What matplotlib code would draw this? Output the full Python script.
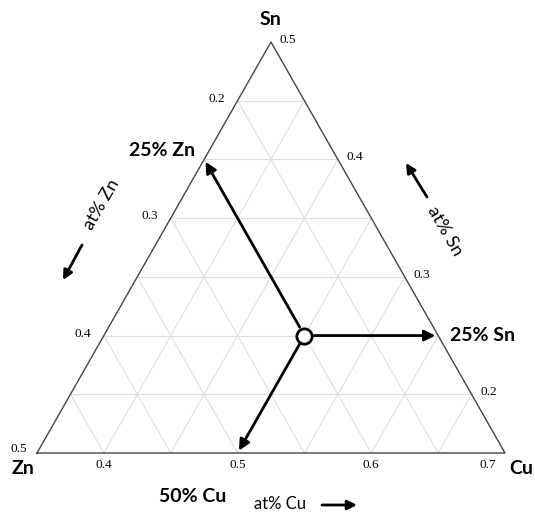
import numpy as np
import matplotlib.pyplot as plt

# ternary window (at%) : Cu 0.35-0.70, Sn 0.15-0.50, Zn 0.15-0.50
cu_min, sn_min, zn_min = 0.35, 0.15, 0.15
span = 0.35
grid_step = 0.05

# composition of the marked alloy and where each arrow ends (cu, sn, zn)
point = (0.50, 0.25, 0.25)
arrow_ends = [(0.35, 0.40, 0.25), (0.60, 0.25, 0.15), (0.50, 0.15, 0.35)]
arrow_labels = ['25% Zn', '25% Sn', '50% Cu']

cu_ticks = [0.4, 0.5, 0.6, 0.7]
zn_ticks = [0.5, 0.4, 0.3, 0.2]
sn_ticks = [0.2, 0.3, 0.4, 0.5]

BOLD = ['Lato', 'DejaVu Sans']
SERIF = ['Liberation Serif', 'DejaVu Serif']
H = 514  # figure height in pixels, for figure-pixel placements


def tern(cu, sn, zn=None):
    b = (cu - cu_min) / span
    t = (sn - sn_min) / span
    return b + t / 2, t * np.sqrt(3) / 2


fig = plt.figure(figsize=(5.35, 5.14), dpi=100)
ax = fig.add_axes([0, 0, 1, 1])
ax.set_xlim(-37 / 468, 498 / 468)
ax.set_ylim(-61 / 474.6, 453 / 474.6)
ax.axis('off')

# grid lines
levels = np.arange(1, 7) * grid_step
for d in levels:
    # constant Cu
    c = cu_min + d
    p1 = tern(c, sn_min); p2 = tern(c, 1 - c - zn_min)
    ax.plot([p1[0], p2[0]], [p1[1], p2[1]], color='#dedede', lw=0.8, zorder=1)
    # constant Sn
    s = sn_min + d
    p1 = tern(cu_min, s); p2 = tern(1 - s - zn_min, s)
    ax.plot([p1[0], p2[0]], [p1[1], p2[1]], color='#dedede', lw=0.8, zorder=1)
    # constant Zn
    z = zn_min + d
    p1 = tern(cu_min, 1 - cu_min - z); p2 = tern(1 - sn_min - z, sn_min)
    ax.plot([p1[0], p2[0]], [p1[1], p2[1]], color='#dedede', lw=0.8, zorder=1)

# outline
corners = [tern(cu_min, sn_min), tern(cu_min + span, sn_min), tern(cu_min, sn_min + span)]
xs = [c[0] for c in corners] + [corners[0][0]]
ys = [c[1] for c in corners] + [corners[0][1]]
ax.plot(xs, ys, color='#444444', lw=1.0, zorder=2)

# tick labels
for v in cu_ticks:
    x, y = tern(v, sn_min)
    dx = -17 if v == cu_ticks[-1] else 0
    ax.annotate(f'{v:.1f}', (x, y), xytext=(dx, -12), textcoords='offset pixels',
                ha='center', va='center', fontsize=9.5, family=SERIF)
for v in zn_ticks:
    x, y = tern(cu_min, 1 - cu_min - v)
    dx, dy = (-18, 4) if v == zn_ticks[0] else (-21, 2)
    ax.annotate(f'{v:.1f}', (x, y), xytext=(dx, dy), textcoords='offset pixels',
                ha='center', va='center', fontsize=9.5, family=SERIF)
for v in sn_ticks:
    x, y = tern(1 - v - zn_min, v)
    ax.annotate(f'{v:.1f}', (x, y), xytext=(17, 2), textcoords='offset pixels',
                ha='center', va='center', fontsize=9.5, family=SERIF)

# corner labels
ax.annotate('Sn', corners[2], xytext=(0, 22), textcoords='offset pixels',
            ha='center', va='center', fontsize=14, fontweight='bold', family=BOLD)
ax.annotate('Zn', corners[0], xytext=(-14, -15), textcoords='offset pixels',
            ha='center', va='center', fontsize=14, fontweight='bold', family=BOLD)
ax.annotate('Cu', corners[1], xytext=(16, -15), textcoords='offset pixels',
            ha='center', va='center', fontsize=14, fontweight='bold', family=BOLD)

# arrows from the alloy point
p0 = tern(*point)
for end in arrow_ends:
    ax.annotate('', xy=tern(*end), xytext=p0,
                arrowprops=dict(arrowstyle='-|>', color='black', lw=2,
                                mutation_scale=16, shrinkA=7, shrinkB=2),
                zorder=4)
ax.plot(*p0, marker='o', ms=11, mfc='white', mec='black', mew=2, zorder=5)

label_offsets = [(-42, 9), (44, 0), (-45, -44)]
for end, lab, off in zip(arrow_ends, arrow_labels, label_offsets):
    ax.annotate(lab, tern(*end), xytext=off, textcoords='offset pixels',
                ha='center', va='center', fontsize=14, fontweight='bold', family=BOLD)

# axis direction labels
ax.annotate('at% Zn', (102, H - 205), xycoords='figure pixels', ha='center', va='center',
            rotation=60, fontsize=13, family=BOLD)
ax.annotate('at% Sn', (445, H - 231), xycoords='figure pixels', ha='center', va='center',
            rotation=-60, fontsize=13, family=BOLD)
ax.annotate('at% Cu', (280, H - 504), xycoords='figure pixels', ha='center', va='center',
            fontsize=12, family=BOLD)

# little direction arrows beside the axis names
dir_arrows = [((82, 245), (63, 280)), ((427, 197), (406, 163)), ((322, 505), (357, 505))]
for start, tip in dir_arrows:
    ax.annotate('', xy=(tip[0], H - tip[1]), xytext=(start[0], H - start[1]),
                xycoords='figure pixels',
                arrowprops=dict(arrowstyle='-|>', color='black', lw=2,
                                mutation_scale=14, shrinkA=0, shrinkB=0))

fig.savefig('out.png', dpi=100)
